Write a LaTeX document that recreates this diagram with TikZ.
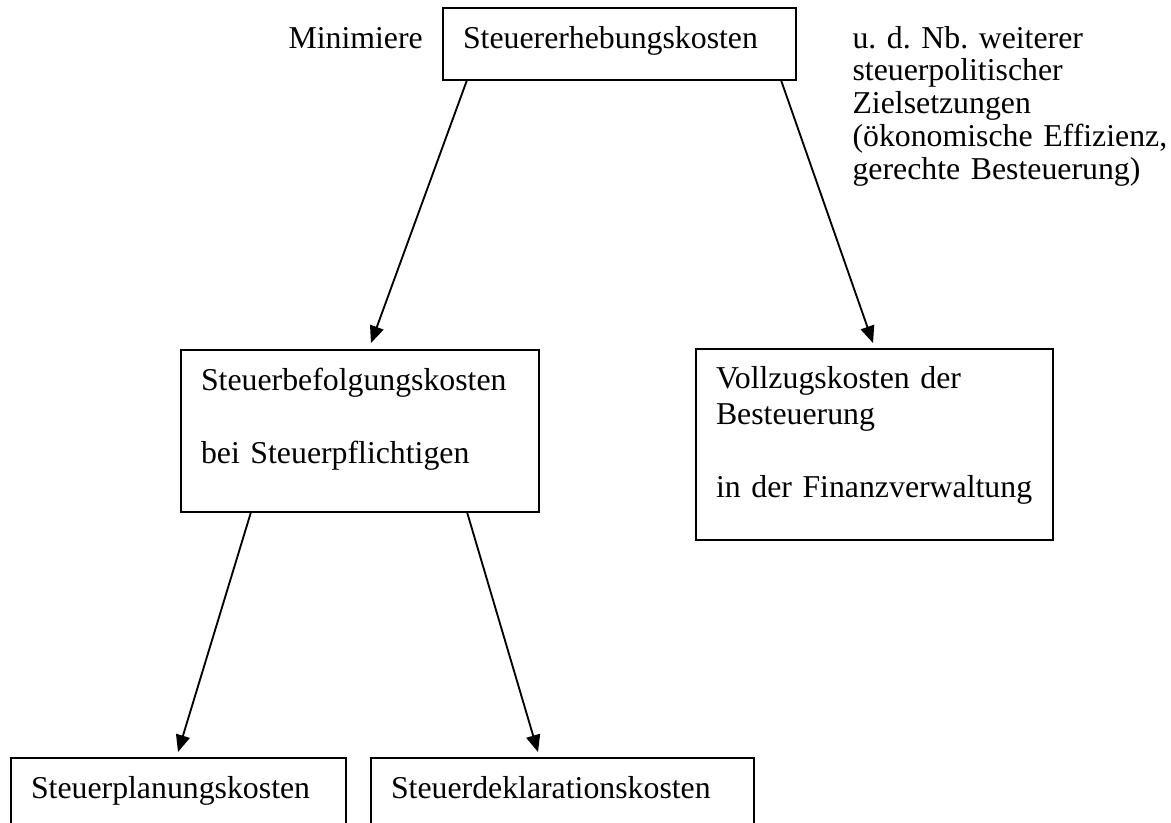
\documentclass[tikz,border=0pt]{standalone}
\usepackage{fontspec}
\setmainfont{Liberation Serif}
\usetikzlibrary{arrows.meta}
\newlength{\einh}
\setlength{\einh}{0.37736pt}
\newcommand{\schrift}{\fontsize{12}{13.8}\selectfont\frenchspacing}
\tikzset{
  kasten/.style={rectangle, draw, line width=1pt, anchor=north west, align=left,
    inner xsep=7.55pt, inner ysep=0pt, outer sep=0pt, font=\schrift},
  frei/.style={anchor=base west, align=left, inner sep=0pt, font=\schrift},
  pfeil/.style={-{Triangle[length=6.4pt, width=5.3pt]}, line width=0.7pt}
}

\begin{document}
\begin{tikzpicture}[x=\einh, y=-\einh]
  \useasboundingbox (0,0) rectangle (1171,822);
  \clip (0,0) rectangle (1171,822);
  \node[frei] (minimiere) at (288,48) {Minimiere};
  \node[kasten, text width=118.1pt, text height=15.1pt, text depth=12.08pt] (erhebung) at (443,8) {Steuererhebungskosten};
  \node[frei, text width=130pt, font=\fontsize{12}{12.4}\selectfont\frenchspacing] (nebenbed) at (852,48) {u. d. Nb. weiterer\\ steuerpolitischer\\ Zielsetzungen\\ (ökonomische Effizienz,\\ gerechte Besteuerung)};
  \node[kasten, text width=120pt, text height=15.1pt, text depth=46.04pt] (befolgung) at (181,350) {Steuerbefolgungskosten\\[13.8pt] bei Steuerpflichtigen};
  \node[kasten, text width=119.6pt, text height=14.72pt, text depth=57.36pt] (vollzug) at (696,349) {Vollzugskosten der\\ Besteuerung\\[13.8pt] in der Finanzverwaltung};
  \node[kasten, text width=111.3pt, text height=15.1pt, text depth=30.2pt] (planung) at (11,758) {Steuerplanungskosten};
  \node[kasten, text width=129.4pt, text height=15.1pt, text depth=30.2pt] (deklaration) at (371,758) {Steuerdeklarationskosten};
  \draw[pfeil] ([shift={(24,0)}]erhebung.south west) -- ([shift={(190,-7)}]befolgung.north west);
  \draw[pfeil] ([shift={(-15,0)}]erhebung.south east) -- ([shift={(177,-6)}]vollzug.north west);
  \draw[pfeil] ([shift={(70,0)}]befolgung.south west) -- ([shift={(167,-6)}]planung.north west);
  \draw[pfeil] ([shift={(286,0)}]befolgung.south west) -- ([shift={(167,-6)}]deklaration.north west);
\end{tikzpicture}
\end{document}
